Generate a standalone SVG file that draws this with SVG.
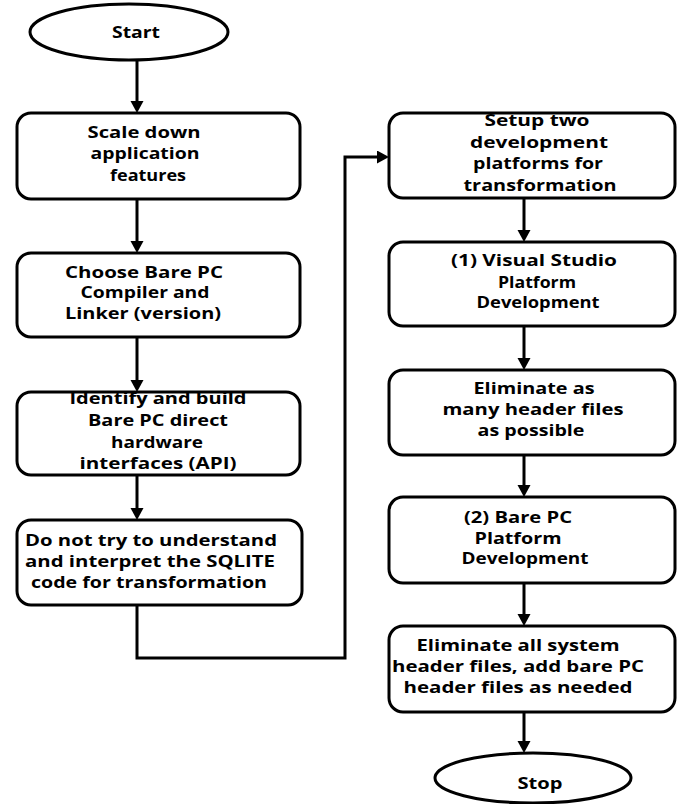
<svg xmlns="http://www.w3.org/2000/svg" width="680" height="804" viewBox="0 0 680 804">
<style>
.box{fill:#fff;stroke:#000;stroke-width:3}
.t{font-family:"Open Sans","Liberation Sans",sans-serif;font-weight:700;font-size:16px;fill:#000;text-anchor:middle}
.c{fill:none;stroke:#000;stroke-width:3}
</style>
<defs>
<marker id="ah" markerUnits="userSpaceOnUse" markerWidth="14" markerHeight="14" refX="4" refY="6.5" orient="auto">
<path d="M0,0 L12,6.5 L0,13 z" fill="#000"/>
</marker>
</defs>
<rect width="680" height="804" fill="#fff"/>
<g id="connectors">
<path class="c" d="M137,60 V105" marker-end="url(#ah)"/>
<path class="c" d="M137,199 V245" marker-end="url(#ah)"/>
<path class="c" d="M137,337 V384" marker-end="url(#ah)"/>
<path class="c" d="M137,475 V512" marker-end="url(#ah)"/>
<path class="c" d="M137,605 V658 H345 V157 H381" marker-end="url(#ah)"/>
<path class="c" d="M524,198 V234" marker-end="url(#ah)"/>
<path class="c" d="M524,326 V362" marker-end="url(#ah)"/>
<path class="c" d="M524,455 V489" marker-end="url(#ah)"/>
<path class="c" d="M524,583 V618" marker-end="url(#ah)"/>
<path class="c" d="M524,712 V745" marker-end="url(#ah)"/>
</g>
<g id="start">
<ellipse class="box" cx="129" cy="32" rx="99" ry="28"/>
<text class="t" x="136" y="38" textLength="48" lengthAdjust="spacingAndGlyphs">Start</text>
</g>
<g id="n1">
<rect class="box" x="17" y="113" width="283" height="86" rx="14"/>
<text class="t" x="144" y="138" textLength="113" lengthAdjust="spacingAndGlyphs">Scale down</text>
<text class="t" x="145" y="159" textLength="109" lengthAdjust="spacingAndGlyphs">application</text>
<text class="t" x="148" y="181" textLength="76" lengthAdjust="spacingAndGlyphs">features</text>
</g>
<g id="n2">
<rect class="box" x="17" y="253" width="283" height="84" rx="14"/>
<text class="t" x="144" y="278" textLength="158" lengthAdjust="spacingAndGlyphs">Choose Bare PC</text>
<text class="t" x="145" y="298" textLength="129" lengthAdjust="spacingAndGlyphs">Compiler and</text>
<text class="t" x="143" y="319" textLength="156" lengthAdjust="spacingAndGlyphs">Linker (version)</text>
</g>
<g id="n3">
<rect class="box" x="17" y="392" width="283" height="83" rx="14"/>
<text class="t" x="158" y="404" textLength="177" lengthAdjust="spacingAndGlyphs">Identify and build</text>
<text class="t" x="158" y="426" textLength="140" lengthAdjust="spacingAndGlyphs">Bare PC direct</text>
<text class="t" x="157" y="448" textLength="92" lengthAdjust="spacingAndGlyphs">hardware</text>
<text class="t" x="158" y="469" textLength="157" lengthAdjust="spacingAndGlyphs">interfaces (API)</text>
</g>
<g id="n4">
<rect class="box" x="17" y="520" width="285" height="85" rx="14"/>
<text class="t" x="151" y="546" textLength="252" lengthAdjust="spacingAndGlyphs">Do not try to understand</text>
<text class="t" x="150" y="567" textLength="250" lengthAdjust="spacingAndGlyphs">and interpret the SQLITE</text>
<text class="t" x="149" y="588" textLength="236" lengthAdjust="spacingAndGlyphs">code for transformation</text>
</g>
<g id="n5">
<rect class="box" x="389" y="113" width="286" height="85" rx="14"/>
<text class="t" x="537" y="126" textLength="105" lengthAdjust="spacingAndGlyphs">Setup two</text>
<text class="t" x="539" y="148" textLength="138" lengthAdjust="spacingAndGlyphs">development</text>
<text class="t" x="538" y="169" textLength="130" lengthAdjust="spacingAndGlyphs">platforms for</text>
<text class="t" x="540" y="191" textLength="153" lengthAdjust="spacingAndGlyphs">transformation</text>
</g>
<g id="n6">
<rect class="box" x="389" y="242" width="286" height="84" rx="14"/>
<text class="t" x="534" y="266" textLength="166" lengthAdjust="spacingAndGlyphs">(1) Visual Studio</text>
<text class="t" x="537" y="288" textLength="78" lengthAdjust="spacingAndGlyphs">Platform</text>
<text class="t" x="538" y="308" textLength="123" lengthAdjust="spacingAndGlyphs">Development</text>
</g>
<g id="n7">
<rect class="box" x="389" y="370" width="286" height="85" rx="14"/>
<text class="t" x="534" y="394" textLength="121" lengthAdjust="spacingAndGlyphs">Eliminate as</text>
<text class="t" x="533" y="415" textLength="181" lengthAdjust="spacingAndGlyphs">many header files</text>
<text class="t" x="531" y="436" textLength="107" lengthAdjust="spacingAndGlyphs">as possible</text>
</g>
<g id="n8">
<rect class="box" x="389" y="497" width="286" height="86" rx="14"/>
<text class="t" x="518" y="523" textLength="108" lengthAdjust="spacingAndGlyphs">(2) Bare PC</text>
<text class="t" x="518" y="544" textLength="87" lengthAdjust="spacingAndGlyphs">Platform</text>
<text class="t" x="525" y="564" textLength="127" lengthAdjust="spacingAndGlyphs">Development</text>
</g>
<g id="n9">
<rect class="box" x="389" y="626" width="286" height="86" rx="14"/>
<text class="t" x="518" y="651" textLength="203" lengthAdjust="spacingAndGlyphs">Eliminate all system</text>
<text class="t" x="518" y="672" textLength="252" lengthAdjust="spacingAndGlyphs">header files, add bare PC</text>
<text class="t" x="518" y="693" textLength="229" lengthAdjust="spacingAndGlyphs">header files as needed</text>
</g>
<g id="stop">
<ellipse class="box" cx="533" cy="778" rx="98" ry="25"/>
<text class="t" x="540" y="789" textLength="45" lengthAdjust="spacingAndGlyphs">Stop</text>
</g>
</svg>
